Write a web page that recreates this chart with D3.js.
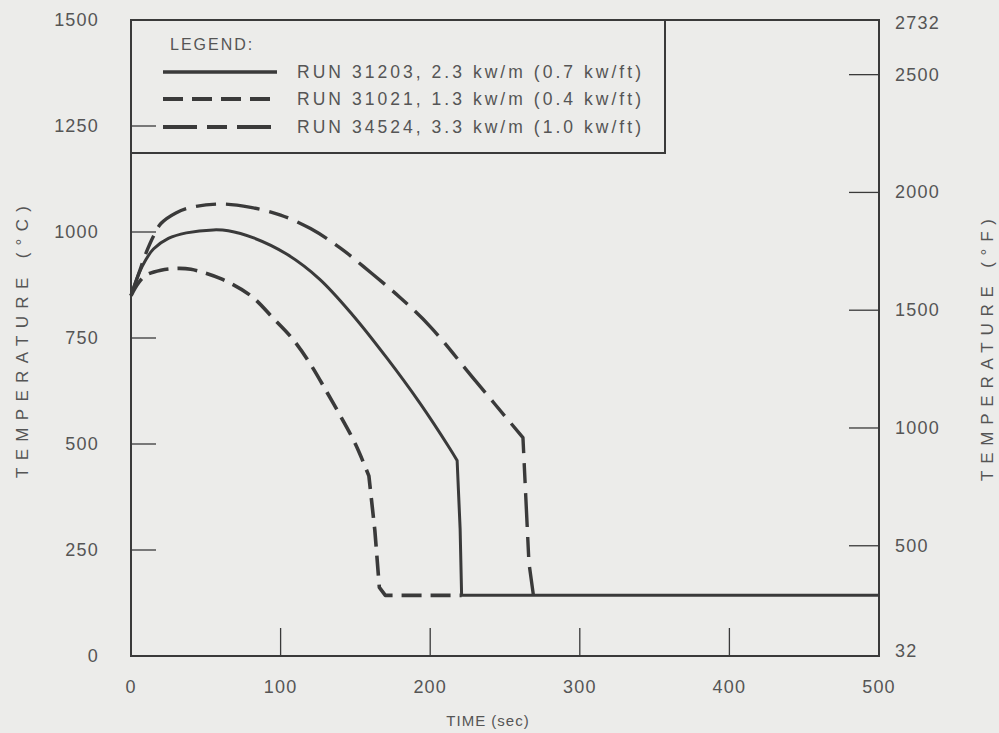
<!DOCTYPE html>
<html>
<head>
<meta charset="utf-8">
<script src="https://cdn.jsdelivr.net/npm/d3@7"></script>
<style>
  body { margin: 0; background: #ececea; }
  text { font-family: "Liberation Sans", Arial, sans-serif; fill: #555; }
</style>
</head>
<body>
<script>
// series data: [time sec, temperature C]
var run31203 = [[0,850],[5,900],[10,935],[15,960],[25,985],[37,998],[55,1005],[65,1003],[82,986],[104,948],
  [126,889],[148,805],[171,703],[193,597],[213,490],[218,461],[220,300],[221,143],[500,143]];
var run31021 = [[0,850],[5,880],[10,898],[20,910],[30,914],[40,912],[60,890],[80,850],[95,797],[108,748],
  [120,688],[131,622],[140,566],[150,500],[159,425],[163,296],[166,162],[170,143],[221,143]];
var run34524 = [[0,850],[5,900],[10,950],[15,990],[20,1020],[30,1045],[40,1058],[60,1066],[80,1058],[100,1040],
  [120,1008],[140,962],[160,905],[180,845],[200,777],[230,650],[262,515],[266,220],[269,143]];

var legendLabels = ["RUN 31203, 2.3 kw/m (0.7 kw/ft)", "RUN 31021, 1.3 kw/m (0.4 kw/ft)", "RUN 34524, 3.3 kw/m (1.0 kw/ft)"];
var xTicks = [0, 100, 200, 300, 400, 500];
var yTicks = [0, 250, 500, 750, 1000, 1250, 1500];
var fTicks = [500, 1000, 1500, 2000, 2500];
var fLabels = [32, 500, 1000, 1500, 2000, 2500, 2732];

var W = 999, H = 733;
var svg = d3.select("body").append("svg").attr("width", W).attr("height", H);
svg.append("rect").attr("width", W).attr("height", H).attr("fill", "#ececea");

var x = d3.scaleLinear().domain([0, 500]).range([131, 879]);
var y = d3.scaleLinear().domain([0, 1500]).range([656, 20]);
var yF = d3.scaleLinear().domain([32, 2732]).range([656, 20]);

var ink = "#3a3a3a";

// frame
svg.append("rect").attr("x", x(0)).attr("y", y(1500))
  .attr("width", x(500) - x(0)).attr("height", y(0) - y(1500))
  .attr("fill", "none").attr("stroke", ink).attr("stroke-width", 2);

// inward ticks
svg.selectAll(".yt").data(yTicks.filter(function(d) { return d > 0 && d < 1500; }))
  .enter().append("line")
  .attr("x1", x(0)).attr("x2", x(0) + 25)
  .attr("y1", function(d) { return y(d); }).attr("y2", function(d) { return y(d); })
  .attr("stroke", ink).attr("stroke-width", 1.3);

svg.selectAll(".xt").data(xTicks.filter(function(d) { return d > 0 && d < 500; }))
  .enter().append("line")
  .attr("x1", function(d) { return x(d); }).attr("x2", function(d) { return x(d); })
  .attr("y1", y(0)).attr("y2", y(0) - 28)
  .attr("stroke", ink).attr("stroke-width", 1.3);

svg.selectAll(".ft").data(fTicks)
  .enter().append("line")
  .attr("x1", x(500)).attr("x2", x(500) - 30)
  .attr("y1", function(d) { return yF(d); }).attr("y2", function(d) { return yF(d); })
  .attr("stroke", ink).attr("stroke-width", 1.3);

// tick labels
svg.selectAll(".yl").data(yTicks).enter().append("text")
  .attr("x", 99).attr("y", function(d) { return y(d) + 6; })
  .attr("text-anchor", "end").attr("font-size", 18).attr("letter-spacing", 1.2)
  .text(function(d) { return d; });

svg.selectAll(".xl").data(xTicks).enter().append("text")
  .attr("x", function(d) { return x(d); }).attr("y", 693)
  .attr("text-anchor", "middle").attr("font-size", 18).attr("letter-spacing", 1.2)
  .text(function(d) { return d; });

svg.selectAll(".fl").data(fLabels).enter().append("text")
  .attr("x", 895).attr("y", function(d) { return yF(d) + 6 + (d === 32 ? -5 : 0) + (d === 2732 ? 3 : 0); })
  .attr("text-anchor", "start").attr("font-size", 18).attr("letter-spacing", 1.2)
  .text(function(d) { return d; });

// axis titles
svg.append("text").attr("x", 488).attr("y", 726).attr("text-anchor", "middle")
  .attr("font-size", 15).attr("letter-spacing", 1).text("TIME (sec)");

svg.append("text").attr("transform", "translate(28,342) rotate(-90)")
  .attr("text-anchor", "middle").attr("font-size", 17)
  .attr("textLength", 272).attr("lengthAdjust", "spacing").text("TEMPERATURE (°C)");

svg.append("text").attr("transform", "translate(993,350) rotate(-90)")
  .attr("text-anchor", "middle").attr("font-size", 17)
  .attr("textLength", 262).attr("lengthAdjust", "spacing").text("TEMPERATURE (°F)");

// curves: smooth up to the knee, straight for the drop and the plateau
var smooth = d3.line()
  .x(function(d) { return x(d[0]); })
  .y(function(d) { return y(d[1]); })
  .curve(d3.curveCatmullRom.alpha(0.5));
var straight = d3.line()
  .x(function(d) { return x(d[0]); })
  .y(function(d) { return y(d[1]); });

var styles = [
  { data: run31203, knee: 15, dash: null, w: 3 },
  { data: run31021, knee: 14, dash: "20,9", w: 3.6 },
  { data: run34524, knee: 16, dash: "34,10,20,10", w: 3.4 }
];

styles.forEach(function(s) {
  var a = smooth(s.data.slice(0, s.knee + 1));
  var b = straight(s.data.slice(s.knee)).replace(/^M[^L]*/, "");
  svg.append("path")
    .attr("d", a + b)
    .attr("fill", "none").attr("stroke", ink)
    .attr("stroke-width", s.w)
    .attr("stroke-dasharray", s.dash)
    .attr("stroke-linejoin", "round");
});

// legend box
svg.append("path")
  .attr("d", "M" + x(0) + "," + 153 + "H" + 665 + "V" + y(1500))
  .attr("fill", "none").attr("stroke", ink).attr("stroke-width", 2);

svg.append("text").attr("x", 170).attr("y", 50).attr("font-size", 16)
  .attr("letter-spacing", 2).text("LEGEND:");

var rows = [72, 99, 127];
styles.forEach(function(s, i) {
  svg.append("line").attr("x1", 163).attr("x2", 277)
    .attr("y1", rows[i]).attr("y2", rows[i])
    .attr("stroke", ink).attr("stroke-width", s.w + 0.6)
    .attr("stroke-dasharray", s.dash);
  svg.append("text").attr("x", 297).attr("y", rows[i] + 6)
    .attr("font-size", 17.5).attr("textLength", 344).attr("lengthAdjust", "spacing")
    .text(legendLabels[i]);
});
</script>
</body>
</html>
